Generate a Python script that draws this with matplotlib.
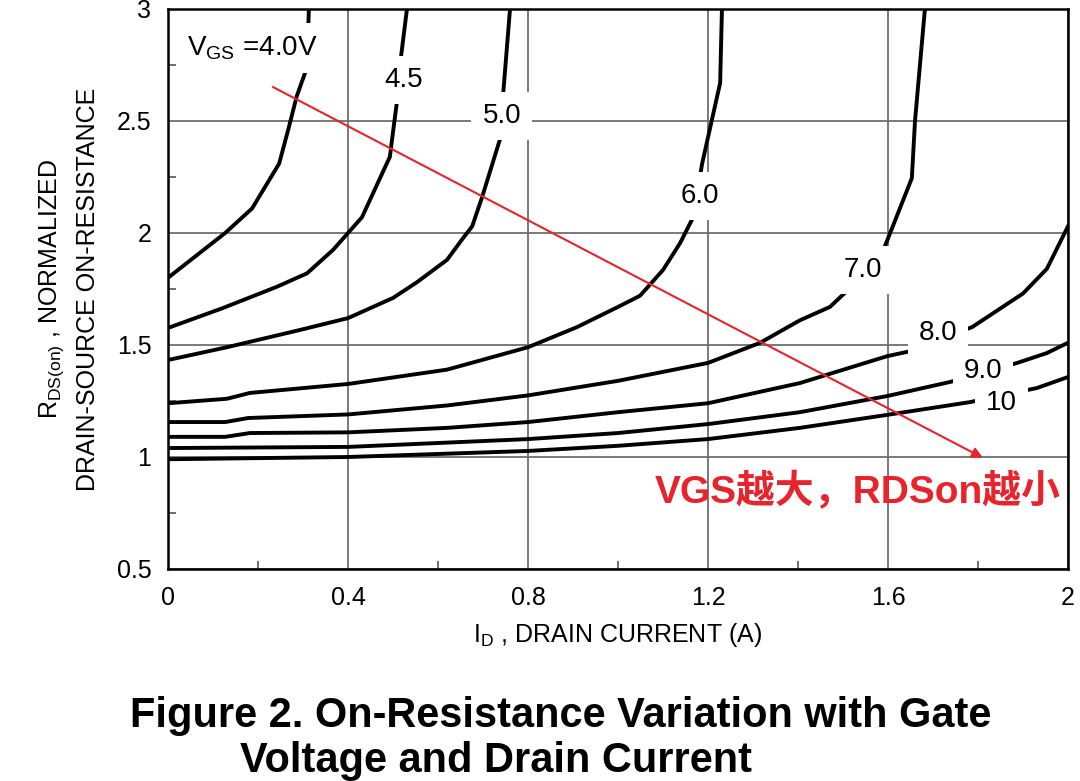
import matplotlib
matplotlib.use('Agg')
import matplotlib.pyplot as plt
from matplotlib.ticker import MultipleLocator
import numpy as np

# Valeurs : I_D (A) et R_DS(on) normalisee pour chaque VGS
vgs_labels = ['4.0', '4.5', '5.0', '6.0', '7.0', '8.0', '9.0', '10']

i_40 = [0, 0.127, 0.187, 0.247, 0.267, 0.286, 0.309, 0.313]
r_40 = [1.80, 2.00, 2.11, 2.31, 2.46, 2.61, 2.74, 3.0]

i_45 = [0, 0.122, 0.242, 0.309, 0.367, 0.40, 0.431, 0.493, 0.50, 0.509, 0.518, 0.531]
r_45 = [1.576, 1.665, 1.76, 1.82, 1.925, 2.0, 2.07, 2.34, 2.45, 2.59, 2.79, 3.0]

i_50 = [0, 0.131, 0.293, 0.40, 0.50, 0.553, 0.62, 0.653, 0.676, 0.698, 0.738, 0.745, 0.76]
r_50 = [1.433, 1.49, 1.567, 1.62, 1.71, 1.78, 1.88, 1.97, 2.03, 2.16, 2.42, 2.625, 3.0]

i_60 = [0, 0.131, 0.182, 0.40, 0.62, 0.80, 0.909, 1.0, 1.049, 1.10, 1.138, 1.167, 1.187, 1.227, 1.231]
r_60 = [1.24, 1.26, 1.286, 1.326, 1.39, 1.49, 1.58, 1.67, 1.72, 1.835, 1.955, 2.07, 2.31, 2.67, 3.0]

i_70 = [0, 0.127, 0.178, 0.40, 0.62, 0.80, 1.0, 1.2, 1.316, 1.404, 1.471, 1.516, 1.593, 1.653, 1.66, 1.682]
r_70 = [1.156, 1.156, 1.174, 1.19, 1.23, 1.275, 1.34, 1.42, 1.51, 1.61, 1.67, 1.755, 1.94, 2.245, 2.50, 3.0]

i_80 = [0, 0.127, 0.182, 0.40, 0.62, 0.80, 1.0, 1.2, 1.404, 1.598, 1.644, 1.787, 1.90, 1.953, 2.0]
r_80 = [1.09, 1.09, 1.107, 1.11, 1.13, 1.156, 1.20, 1.24, 1.33, 1.45, 1.47, 1.58, 1.73, 1.84, 2.03]

i_90 = [0, 0.40, 0.80, 1.0, 1.2, 1.404, 1.598, 1.738, 1.887, 1.953, 2.0]
r_90 = [1.04, 1.045, 1.08, 1.107, 1.147, 1.20, 1.272, 1.335, 1.42, 1.464, 1.51]

i_100 = [0, 0.40, 0.80, 1.0, 1.2, 1.404, 1.598, 1.782, 1.931, 2.0]
r_100 = [0.99, 1.0, 1.027, 1.05, 1.08, 1.13, 1.188, 1.245, 1.308, 1.357]

curves_i = [i_40, i_45, i_50, i_60, i_70, i_80, i_90, i_100]
curves_r = [r_40, r_45, r_50, r_60, r_70, r_80, r_90, r_100]

# position (x, ligne de base) des etiquettes de chaque courbe
label_x = [0.042, 0.524, 0.742, 1.182, 1.544, 1.711, 1.811, 1.853]
label_y = [2.795, 2.652, 2.491, 2.134, 1.804, 1.522, 1.353, 1.21]

arrow_start = (0.233, 2.652)
arrow_end = (1.811, 0.996)
note_pos = (1.082, 0.795)
note_text = 'VGS越大，RDSon越小'

red = '#e8232c'
plt.rcParams['font.family'] = ['Liberation Sans', 'DejaVu Sans']
plt.rcParams['mathtext.fontset'] = 'custom'
plt.rcParams['mathtext.rm'] = 'Liberation Sans'

fig = plt.figure(figsize=(10.8, 7.81), dpi=100)
ax = fig.add_axes([168 / 1080, 1 - 569 / 781, 900 / 1080, 560 / 781])

for xs, ys in zip(curves_i, curves_r):
    ax.plot(xs, ys, color='black', lw=2.8, solid_joinstyle='miter', zorder=3)

# etiquettes sur fond blanc (coupent les courbes et la grille)
box = dict(facecolor='white', edgecolor='none', boxstyle='square,pad=0.4')
for k, (lab, lx, ly) in enumerate(zip(vgs_labels, label_x, label_y)):
    if k == 0:
        ax.text(lx, ly, r'V$_{\mathregular{GS}}$ =4.0V', fontsize=20, ha='left',
                va='baseline', bbox=box, zorder=4)
    else:
        ax.text(lx, ly, lab, fontsize=20, ha='center', va='baseline',
                bbox=box, zorder=4)

ax.annotate('', xy=arrow_end, xytext=arrow_start,
            arrowprops=dict(arrowstyle='-|>', color=red, lw=1.5,
                            mutation_scale=16, shrinkA=0, shrinkB=0),
            zorder=5)
ax.text(note_pos[0], note_pos[1], note_text, color=red, fontsize=28,
        fontweight='bold', family=['Liberation Sans', 'Noto Sans CJK SC'],
        ha='left', va='baseline', zorder=5)

ax.set_xlim(0, 2)
ax.set_ylim(0.5, 3)
ax.xaxis.set_major_locator(MultipleLocator(0.4))
ax.xaxis.set_minor_locator(MultipleLocator(0.2))
ax.yaxis.set_major_locator(MultipleLocator(0.5))
ax.yaxis.set_minor_locator(MultipleLocator(0.25))
ax.set_xticks([0, 0.4, 0.8, 1.2, 1.6, 2])
ax.set_xticklabels(['0', '0.4', '0.8', '1.2', '1.6', '2'])
ax.set_yticks([0.5, 1, 1.5, 2, 2.5, 3])
ax.set_yticklabels(['0.5', '1', '1.5', '2', '2.5', '3'])
ax.grid(which='major', color='#6e6e6e', lw=1.3)
ax.tick_params(which='major', direction='in', length=0, labelsize=18, pad=12)
ax.tick_params(which='minor', direction='in', length=6, width=1.2, color='#555555')
for s in ax.spines.values():
    s.set_linewidth(1.8)
    s.set_color('black')
    s.set_zorder(6)

ax.set_xlabel(r'I$_{\mathregular{D}}$ , DRAIN CURRENT (A)', fontsize=18, labelpad=8)
ax.set_ylabel('R$_{\\mathregular{DS(on)}}$ , NORMALIZED\nDRAIN-SOURCE ON-RESISTANCE',
              fontsize=18, labelpad=12, linespacing=1.5)

fig.text(130 / 1080, 1 - 727 / 781, 'Figure 2. On-Resistance Variation with Gate',
         fontsize=29.9, fontweight='bold', ha='left', va='baseline')
fig.text(240 / 1080, 1 - 772 / 781, 'Voltage and Drain Current',
         fontsize=29.9, fontweight='bold', ha='left', va='baseline')

fig.savefig('out.png', dpi=100)
